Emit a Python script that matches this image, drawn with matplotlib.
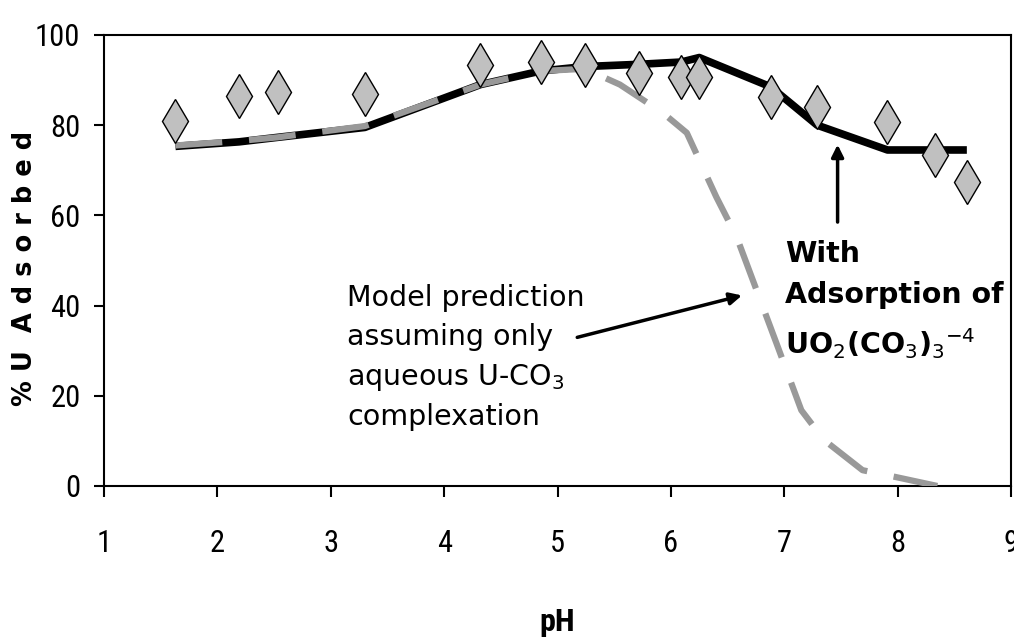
import matplotlib
matplotlib.use("Agg")
import matplotlib.pyplot as plt
from matplotlib import font_manager
from matplotlib.font_manager import FontProperties

# ---- data ----
ph_obs = [1.63, 2.19, 2.53, 3.30, 4.32, 4.85, 5.24, 5.72, 6.09, 6.25, 6.88, 7.29, 7.91, 8.33, 8.61]
ads_obs = [80.9, 86.5, 87.3, 87.0, 93.4, 94.0, 93.3, 91.6, 90.7, 90.7, 86.3, 84.0, 80.7, 73.4, 67.4]

ph_with = [1.63, 2.19, 2.53, 3.30, 4.32, 4.85, 5.24, 5.72, 6.09, 6.25, 6.88, 7.29, 7.91, 8.33, 8.61]
ads_with = [75.3, 76.3, 77.3, 79.5, 89.0, 92.0, 93.0, 93.5, 94.0, 95.0, 88.5, 80.0, 74.5, 74.5, 74.5]

ph_aq = [1.63, 2.19, 2.53, 3.30, 4.32, 4.85, 5.24, 5.55, 5.93, 6.14, 6.40, 6.58, 6.93, 7.15, 7.35, 7.69, 7.98, 8.35]
ads_aq = [75.5, 76.5, 77.3, 79.8, 89.0, 92.0, 92.5, 89.0, 82.7, 78.3, 64.1, 55.2, 31.7, 16.8, 10.2, 3.5, 2.0, 0.0]

xticks = [1, 2, 3, 4, 5, 6, 7, 8, 9]
yticks = [0, 20, 40, 60, 80, 100]


def find_condensed(bold=False):
    cands = []
    for f in font_manager.fontManager.ttflist:
        key = (f.name + " " + str(f.stretch) + " " + f.fname).lower()
        if ("narrow" in key or "condensed" in key) and "oblique" not in key and "italic" not in key:
            isbold = ("bold" in f.fname.lower()) or (str(f.weight) in ("700", "bold"))
            if isbold == bold:
                pref = 0 if "liberation" in key else (1 if "roboto" in key else 2)
                cands.append((pref, f.fname))
    if cands:
        cands.sort()
        return FontProperties(fname=cands[0][1])
    return FontProperties(family="Liberation Sans", weight="bold" if bold else "normal")


tick_fp = find_condensed(False)
label_fp = find_condensed(True)

fig = plt.figure(figsize=(10.14, 6.43), dpi=100)
ax = fig.add_axes([0.1026, 0.2442, 0.8945, 0.7014])

ax.plot(ph_with, ads_with, color="black", lw=5.5, solid_capstyle="butt", zorder=2)
ax.plot(ph_aq, ads_aq, color="#999999", lw=4.5, dashes=(7.5, 4.3), dash_capstyle="butt", zorder=3)
ax.plot(ph_obs, ads_obs, linestyle="none", marker="d", markersize=22,
        markerfacecolor="#c0c0c0", markeredgecolor="black", markeredgewidth=1.0, zorder=4)

ax.set_xlim(1, 9)
ax.set_ylim(0, 100)
ax.set_xticks(xticks)
ax.set_yticks(yticks)
ax.tick_params(axis="x", direction="out", length=8, width=1.5, pad=23)
ax.tick_params(axis="y", direction="out", length=7, width=1.5, pad=10)
for lab in ax.get_xticklabels() + ax.get_yticklabels():
    lab.set_fontproperties(tick_fp)
    lab.set_fontsize(22)
for s in ax.spines.values():
    s.set_linewidth(1.5)
    s.set_color("black")

fig.text(25 / 1014, 1 - 268 / 643, "% U  A d s o r b e d", rotation=90,
         ha="center", va="center", fontsize=18.5, fontweight="bold", family="DejaVu Sans")
xl = fig.text(557 / 1014, 1 - 622 / 643, "pH", ha="center", va="center")
xl.set_fontproperties(label_fp)
xl.set_fontsize(23)

ax.text(1 + (347 - 104) / 113.4, (486 - 284) / 4.51,
        "Model prediction\nassuming only\naqueous U-CO$_3$\ncomplexation",
        ha="left", va="top", fontsize=20.5, family="DejaVu Sans", linespacing=1.48)
ax.annotate("", xy=(6.65, 42.4), xytext=(5.15, 32.8),
            arrowprops=dict(arrowstyle="-|>", color="black", lw=2.5, mutation_scale=18))

ax.text(1 + (785 - 104) / 113.4, (486 - 240) / 4.51,
        "With\nAdsorption of\nUO$_2$(CO$_3$)$_3$$^{-4}$",
        ha="left", va="top", fontsize=20.5, fontweight="bold", family="DejaVu Sans",
        linespacing=1.6)
ax.annotate("", xy=(7.47, 76.3), xytext=(7.47, 57.9),
            arrowprops=dict(arrowstyle="-|>", color="black", lw=2.5, mutation_scale=18))

fig.savefig("out.png", dpi=100)
